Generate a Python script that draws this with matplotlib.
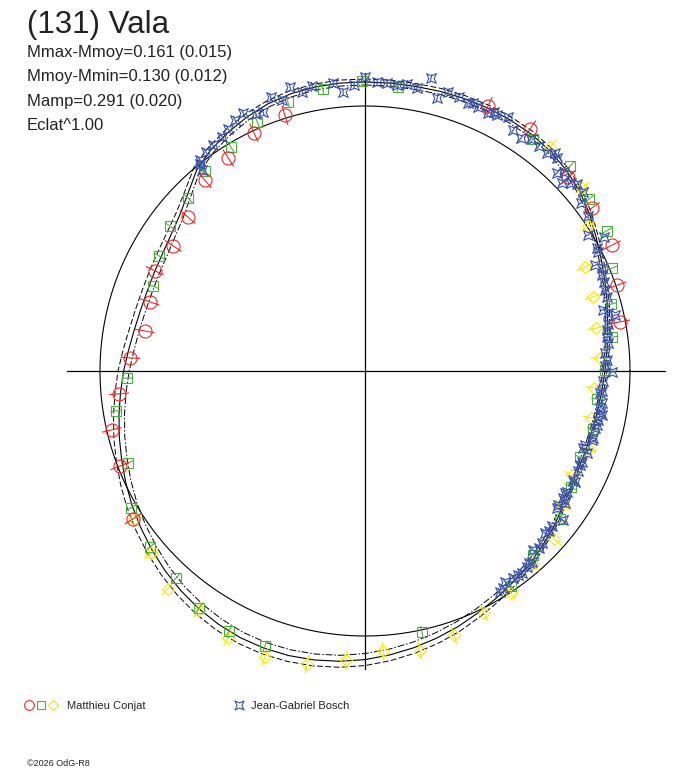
import numpy as np
import matplotlib
matplotlib.use("Agg")
import matplotlib.pyplot as plt
from matplotlib.path import Path
from matplotlib.collections import LineCollection

title = "(131) Vala"
stats = [
    "Mmax-Mmoy=0.161 (0.015)",
    "Mmoy-Mmin=0.130 (0.012)",
    "Mamp=0.291 (0.020)",
    "Eclat^1.00",
]
observers = ["Matthieu Conjat", "Jean-Gabriel Bosch"]
footer = "\u00a92026 OdG-R8"

# fitted light curve, sampled every 5 deg of phase (clockwise from top): delta mag and sigma
fit_phase = list(range(0, 360, 5))
fit_dm = [-0.120, -0.120, -0.120, -0.123, -0.125, -0.126, -0.125, -0.122, -0.113, -0.097,
          -0.075, -0.045, -0.010, 0.020, 0.047, 0.070, 0.092, 0.110, 0.125, 0.137,
          0.146, 0.152, 0.153, 0.150, 0.140, 0.123, 0.100, 0.078, 0.055, 0.035,
          0.013, -0.010, -0.035, -0.058, -0.080, -0.100, -0.118, -0.132, -0.142, -0.148,
          -0.150, -0.147, -0.138, -0.125, -0.108, -0.088, -0.066, -0.043, -0.020, 0.005,
          0.030, 0.053, 0.076, 0.098, 0.118, 0.138, 0.153, 0.162, 0.165, 0.162,
          0.155, 0.140, 0.115, 0.072, 0.015, -0.022, -0.050, -0.075, -0.096, -0.110,
          -0.117, -0.120]
fit_sig = [0.015, 0.015, 0.015, 0.015, 0.015, 0.015, 0.015, 0.015, 0.014, 0.013,
           0.012, 0.012, 0.012, 0.011, 0.010, 0.010, 0.010, 0.010, 0.010, 0.010,
           0.010, 0.010, 0.010, 0.010, 0.010, 0.011, 0.012, 0.013, 0.015, 0.018,
           0.020, 0.022, 0.025, 0.027, 0.028, 0.029, 0.030, 0.030, 0.030, 0.030,
           0.030, 0.030, 0.030, 0.029, 0.028, 0.028, 0.028, 0.028, 0.028, 0.028,
           0.028, 0.028, 0.028, 0.028, 0.028, 0.027, 0.025, 0.025, 0.025, 0.025,
           0.025, 0.023, 0.022, 0.020, 0.020, 0.018, 0.018, 0.017, 0.016, 0.016,
           0.015, 0.015]

# Matthieu Conjat, session 1 (red circles)
red_phase = [342.6, 335.0, 327.3, 320.0, 311.0, 303.1, 295.5, 287.8, 280.3, 273.2, 264.7,
             256.9, 248.8, 237.5, 24.9, 34.3, 46.4, 54.3, 63.0, 71.2, 79.1]
red_dm = [-0.015, 0.010, 0.060, 0.080, 0.150, 0.180, 0.160, 0.195, 0.205, 0.150, 0.090,
          0.025, 0.010, -0.050, -0.135, -0.140, -0.080, -0.070, -0.060, -0.005, 0.025]
red_err = 0.050

# Matthieu Conjat, session 2 (green squares)
green_phase = [6.6, 35.9, 45.0, 52.5, 59.9, 67.4, 74.8, 82.2, 89.8, 96.9, 104.3, 111.8,
               119.4, 127.2, 137.6, 145.8, 167.7, 200.0, 207.6, 215.0, 222.4, 230.7,
               239.7, 248.8, 260.9, 268.3, 291.8, 299.2, 306.6, 314.3, 321.3, 329.1,
               336.6, 344.0, 351.5, 359.4]
green_dm = [-0.105, -0.105, -0.125, -0.085, -0.075, -0.015, 0.050, 0.080, 0.125, 0.155,
            0.150, 0.165, 0.145, 0.100, 0.080, 0.025, -0.010, -0.140, -0.140, -0.120,
            -0.075, -0.065, -0.030, 0.055, 0.065, 0.135, 0.185, 0.145, 0.110, 0.090,
            0.045, 0.020, -0.030, -0.075, -0.100, -0.125]
green_err = 0.030

# Matthieu Conjat, session 3 (yellow diamonds)
yellow_phase = [39.6, 49.9, 57.0, 64.7, 72.0, 79.5, 86.8, 94.2, 101.7, 109.2, 116.7, 124.1,
                131.6, 139.0, 146.7, 153.8, 161.4, 168.9, 176.3, 183.8, 191.2, 199.3,
                207.2, 214.8, 222.2, 229.6, 237.4]
yellow_dm = [-0.130, -0.095, -0.005, 0.110, 0.125, 0.150, 0.150, 0.175, 0.170, 0.140,
             0.165, 0.130, 0.060, 0.045, -0.005, -0.025, -0.070, -0.100, -0.080, -0.125,
             -0.170, -0.190, -0.175, -0.130, -0.145, -0.080, -0.045]
yellow_err = 0.045

# Jean-Gabriel Bosch (blue stars)
blue_phase = [321.0, 321.5, 322.0, 324.0, 326.0, 328.6, 330.5, 332.6, 334.7, 337.0, 338.5,
              341.0, 343.0, 345.2, 347.3, 349.5, 353.7, 355.5, 357.8, 0.0, 2.4, 4.4, 6.4,
              8.3, 10.4, 12.7, 14.8, 16.6, 18.9, 21.0, 23.2, 25.5, 27.3, 29.4, 31.6, 33.8,
              37.7, 39.9, 42.0, 44.1, 46.3, 48.6, 50.6, 52.1, 55.2, 58.6, 60.7, 63.0, 65.3,
              67.9, 71.4, 73.0, 75.6, 77.4, 80.4, 83.4, 85.7, 90.2, 92.4, 94.8, 97.7,
              100.1, 103.1, 106.4, 108.6, 110.3, 112.8, 115.2, 117.9, 120.9, 123.4, 125.5,
              127.0, 129.7, 132.0, 134.2, 136.8, 138.8, 140.4, 142.1, 144.4, 146.4, 148.6,
              95.3, 98.9, 100.5, 101.9, 103.9, 106.9, 109.5, 113.6, 117.7, 121.4, 122.7,
              124.8, 62.0, 66.5, 69.5, 76.5, 79.0, 82.0, 87.5, 88.8, 131.0, 135.5, 139.5,
              143.0, 147.5, 22.0, 26.5, 35.5, 41.0, 45.0, 47.5]
blue_dm = [0.030, 0.000, -0.015, -0.030, -0.035, -0.045, -0.065, -0.090, -0.100, -0.070,
           -0.065, -0.125, -0.090, -0.145, -0.105, -0.125, -0.125, -0.075, -0.105, -0.145,
           -0.120, -0.120, -0.115, -0.125, -0.115, -0.175, -0.085, -0.130, -0.125, -0.110,
           -0.110, -0.105, -0.115, -0.130, -0.090, -0.075, -0.095, -0.095, -0.110, -0.055,
           -0.035, -0.090, -0.085, -0.045, -0.035, 0.020, -0.045, 0.015, 0.060, 0.045,
           0.060, 0.060, 0.095, 0.045, 0.100, 0.100, 0.120, 0.090, 0.135, 0.135, 0.130,
           0.130, 0.135, 0.135, 0.165, 0.140, 0.150, 0.150, 0.135, 0.150, 0.125, 0.145,
           0.085, 0.110, 0.115, 0.090, 0.100, 0.055, 0.055, 0.045, 0.055, 0.060, 0.030,
           0.145, 0.135, 0.120, 0.135, 0.140, 0.140, 0.170, 0.150, 0.150, 0.155, 0.150,
           0.150, 0.010, 0.035, 0.050, 0.075, 0.085, 0.105, 0.115, 0.125, 0.105, 0.085,
           0.065, 0.050, 0.040, -0.120, -0.120, -0.100, -0.120, -0.080, -0.070]
blue_err = 0.020

K = 0.755  # radius units per magnitude (mean circle = 1)

red_c = "#f02828"
green_c = "#4cb040"
yellow_c = "#f8e800"
blue_c = "#3a52a8"

star_path = Path([(1, 1), (0, 0.55), (-1, 1), (-0.55, 0), (-1, -1), (0, -0.55),
                  (1, -1), (0.55, 0), (1, 1)],
                 [Path.MOVETO] + [Path.LINETO] * 7 + [Path.CLOSEPOLY])


def to_xy(phase, dm):
    th = np.deg2rad(np.asarray(phase, dtype=float))
    r = 1 - K * np.asarray(dm, dtype=float)
    return r * np.sin(th), r * np.cos(th)


def err_segments(phase, dm, err):
    x1, y1 = to_xy(phase, np.asarray(dm) - err)
    x2, y2 = to_xy(phase, np.asarray(dm) + err)
    return [[(a, b), (c, d)] for a, b, c, d in zip(x1, y1, x2, y2)]


fig = plt.figure(figsize=(6.88, 7.68), dpi=100)
ax = fig.add_axes([0, 0, 1, 1])
ax.set_xlim(-365 / 265, 323 / 265)
ax.set_ylim(-397 / 265, 371 / 265)
ax.axis("off")

# axes cross and mean circle
ax.plot([-1.125, 1.132], [0, 0], color="black", lw=0.9)
ax.plot([0, 0], [-1.125, 1.125], color="black", lw=0.9)
t = np.linspace(0, 2 * np.pi, 400)
ax.plot(np.cos(t), np.sin(t), color="black", lw=0.8)

# fitted curve with envelopes
fp = np.append(fit_phase, 360)
fd = np.append(fit_dm, fit_dm[0])
fs = np.append(fit_sig, fit_sig[0])
x, y = to_xy(fp, fd)
ax.plot(x, y, color="black", lw=0.8)
x, y = to_xy(fp, fd - fs)
ax.plot(x, y, color="black", lw=0.7, dashes=(6, 2.5))
x, y = to_xy(fp, fd + fs)
ax.plot(x, y, color="black", lw=0.7, dashes=(7, 2, 1.5, 2))

series = [
    (yellow_phase, yellow_dm, yellow_err, yellow_c, "D", 6.2),
    (green_phase, green_dm, green_err, green_c, "s", 7.2),
    (red_phase, red_dm, red_err, red_c, "o", 9.4),
    (blue_phase, blue_dm, blue_err, blue_c, star_path, 7.0),
]
for ph, dm, err, col, mk, ms in series:
    ax.add_collection(LineCollection(err_segments(ph, dm, err), colors=col, linewidths=0.8))
    x, y = to_xy(ph, dm)
    ax.plot(x, y, ls="none", marker=mk, ms=ms, mfc="none", mec=col, mew=0.8)

# text and legend in pixel coordinates
ov = fig.add_axes([0, 0, 1, 1])
ov.set_xlim(0, 688)
ov.set_ylim(768, 0)
ov.axis("off")
font = "Liberation Sans"
ov.text(27, 33, title, fontsize=22.5, family=font, color="#222222", va="baseline")
for i, s in enumerate(stats):
    ov.text(27, 57 + 24.5 * i, s, fontsize=12, family=font, color="#222222", va="baseline")

ov.plot(29, 705, marker="o", ms=7, mfc="none", mec=red_c, mew=0.8)
ov.plot(41, 705, marker="s", ms=5.8, mfc="none", mec=green_c, mew=0.8)
ov.plot(53, 705, marker="D", ms=5, mfc="none", mec=yellow_c, mew=0.8)
ov.text(67, 709, observers[0], fontsize=8, family=font, color="#222222", va="baseline")
ov.plot(239, 705, marker=star_path, ms=6.5, mfc="none", mec=blue_c, mew=0.8)
ov.text(251, 709, observers[1], fontsize=8, family=font, color="#222222", va="baseline")
ov.text(27, 766, footer, fontsize=6.5, family=font, color="#222222", va="baseline")

fig.savefig("out.png", dpi=100)
